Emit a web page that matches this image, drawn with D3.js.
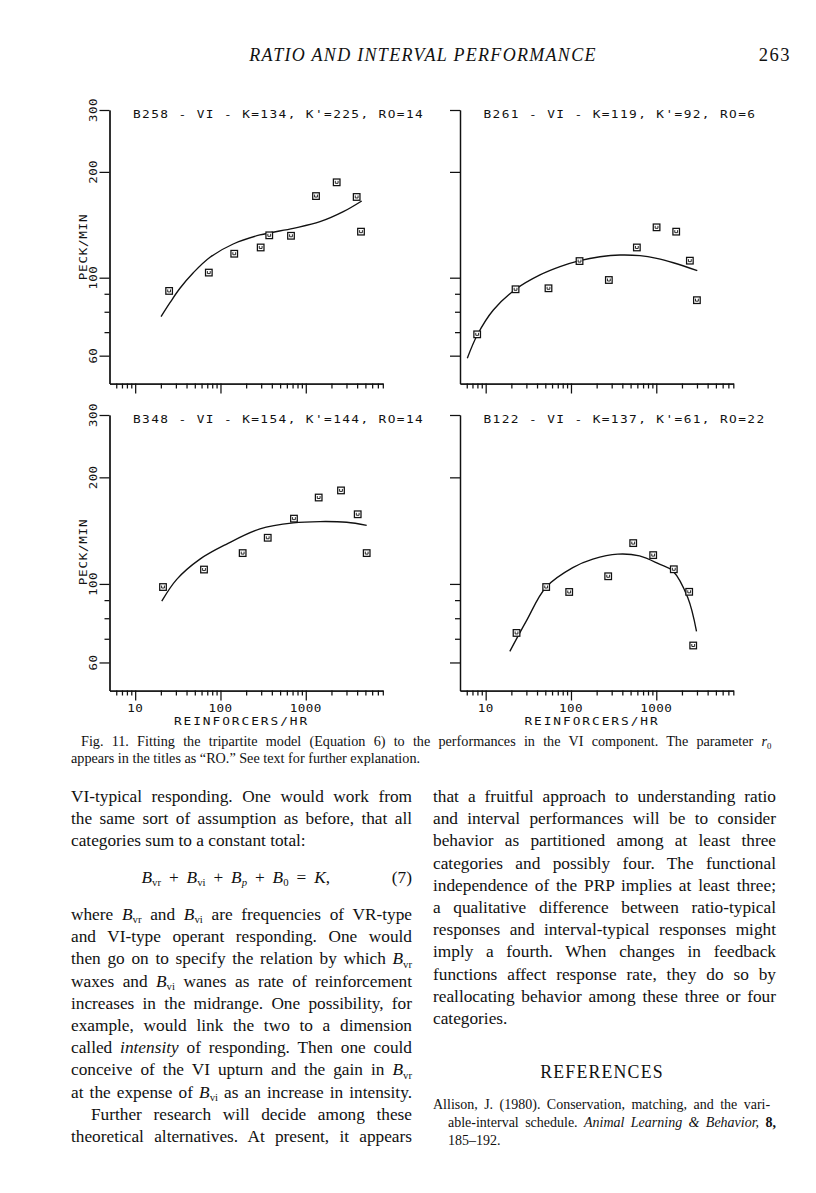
<!DOCTYPE html>
<html><head><meta charset="utf-8">
<script src="https://cdn.jsdelivr.net/npm/d3@7"></script>
<style>
body{margin:0;background:#fff;}
svg{display:block;background:#fff;}
.plot text{font-family:"DejaVu Sans Mono",monospace;fill:#111;}
.serif{font-family:"Liberation Serif","Times New Roman",serif;fill:#111;white-space:pre;}
</style></head><body>
<svg id="page" width="816" height="1193"></svg>
<script>
// ---------- chart data ----------
const panelTitles = [
  "B258 - VI - K=134, K'=225, RO=14",
  "B261 - VI - K=119, K'=92, RO=6",
  "B348 - VI - K=154, K'=144, RO=14",
  "B122 - VI - K=137, K'=61, RO=22"
];
const xMajorTicks = [10, 100, 1000];
const xMinorTicks = [6,7,8,9,20,30,40,50,60,70,80,90,200,300,400,500,600,700,800,900,2000,3000,4000,5000,6000,7000,8000];
const xTickLabels = ["10", "100", "1000"];
const yMajorTicks = [60, 100, 200, 300];
const yMinorTicks = [70, 80, 90];
const yTickLabels = ["60", "100", "200", "300"];
const xTitle = "REINFORCERS/HR";
const yTitle = "PECK/MIN";

// B258
const b258Rate = [25, 73, 145, 296, 373, 671, 1318, 2303, 3950, 4440];
const b258Peck = [91.7, 103.4, 117, 121.9, 132, 131.6, 170.7, 186.8, 169.7, 135.2];
const b258FitRate = [20.1, 25.6, 33.5, 48, 75.4, 141, 290, 714, 1468, 2753, 4525];
const b258FitPeck = [77.5, 84.9, 93.3, 103.3, 114.3, 124.7, 132.3, 138.2, 144.3, 154.1, 165.3];
// B261
const b261Rate = [7.95, 22.4, 54.5, 126, 278, 592, 1008, 1712, 2476, 2995];
const b261Peck = [69, 92.7, 93.3, 111.5, 98.5, 121.9, 139.1, 135.2, 111.8, 86.3];
const b261FitRate = [6.09, 7.97, 12.3, 22.5, 43.3, 74.4, 126.5, 219, 376, 644, 1011, 1584, 3026];
const b261FitPeck = [59, 68.7, 80.9, 92.7, 101.8, 107.5, 111.8, 114.7, 116, 115.5, 113.5, 110.3, 104.7];
// B348
const b348Rate = [21.2, 64.1, 182, 358, 727, 1417, 2588, 4062, 5177];
const b348Peck = [98, 109.8, 122.2, 135, 152.9, 175.4, 183.7, 157.3, 122.2];
const b348FitRate = [20.5, 30.7, 57.5, 118.3, 290.5, 714, 1468, 3019, 5177];
const b348FitPeck = [89.4, 103, 117.5, 129.6, 143, 148.7, 150, 149.3, 146.3];
// B122
const b122Rate = [23, 51.2, 95.3, 273, 536.5, 920, 1605, 2430, 2710];
const b122Peck = [72.7, 98, 94.9, 105.1, 130.4, 120.6, 110, 95, 67];
const b122FitRate = [19.2, 29.9, 51.2, 105, 180.3, 354, 636, 1091, 1563, 2344, 2963];
const b122FitPeck = [64.5, 78.5, 98, 111.2, 117.5, 121.4, 120, 113.7, 108.8, 91.4, 73.5];

// ---------- layout ----------
const svg = d3.select("#page");
const perDecade = 85.3;
const frames = [
  {x0:109.5, top:110, bottom:383.5, yLab:true,  xLab:false},
  {x0:460,   top:110, bottom:383.5, yLab:false, xLab:false},
  {x0:109.5, top:415, bottom:690.5, yLab:true,  xLab:true},
  {x0:460,   top:415, bottom:690.5, yLab:false, xLab:true}
];
const series = [
  [b258Rate, b258Peck, b258FitRate, b258FitPeck],
  [b261Rate, b261Peck, b261FitRate, b261FitPeck],
  [b348Rate, b348Peck, b348FitRate, b348FitPeck],
  [b122Rate, b122Peck, b122FitRate, b122FitPeck]
];

// plotter-style text: widened monospace glyphs
function plotText(g, x, y, str, opts) {
  const rot = opts.rotate ? ` rotate(${opts.rotate})` : "";
  return g.append("text")
    .attr("transform", `translate(${x},${y})${rot} scale(${opts.sx},1)`)
    .attr("text-anchor", opts.anchor || "start")
    .attr("font-size", opts.size || 10.5)
    .style("letter-spacing", opts.ls + "px")
    .text(str);
}

frames.forEach((f, i) => {
  const [rate, peck, fitRate, fitPeck] = series[i];
  const x = d3.scaleLog().domain([5, 8000]).range([f.x0, f.x0 + perDecade * Math.log10(8000/5)]);
  const y = d3.scaleLog().domain([50, 300]).range([f.bottom, f.top]);
  const g = svg.append("g").attr("class", "plot");

  const ax = (sel) => sel.selectAll("path,line").attr("stroke", "#111").attr("stroke-width", 1.25);
  g.append("g").attr("transform", `translate(0,${f.bottom})`)
    .call(d3.axisBottom(x).tickValues(xMinorTicks).tickSize(5).tickSizeOuter(0).tickFormat(() => "")).call(ax);
  g.append("g").attr("transform", `translate(0,${f.bottom})`)
    .call(d3.axisBottom(x).tickValues(xMajorTicks).tickSize(10).tickSizeOuter(0).tickFormat(() => "")).call(ax);
  g.append("g").attr("transform", `translate(${f.x0},0)`)
    .call(d3.axisLeft(y).tickValues(yMinorTicks).tickSize(5).tickSizeOuter(0).tickFormat(() => "")).call(ax);
  g.append("g").attr("transform", `translate(${f.x0},0)`)
    .call(d3.axisLeft(y).tickValues(yMajorTicks).tickSize(10).tickSizeOuter(0).tickFormat(() => "")).call(ax);

  // title
  plotText(g, f.x0 + 23.5, f.top + 7.6, panelTitles[i], {sx: 1.22, ls: 1.14});

  if (f.yLab) {
    yMajorTicks.forEach((v, k) => {
      plotText(g, f.x0 - 12.5, y(v), yTickLabels[k], {rotate: -90, anchor: "middle", sx: 1.18, ls: 0.4});
    });
    plotText(g, f.x0 - 22.5, f.top + 137, yTitle, {rotate: -90, anchor: "middle", sx: 1.2, ls: 0.6});
  }
  if (f.xLab) {
    xMajorTicks.forEach((v, k) => {
      plotText(g, x(v), f.bottom + 21, xTickLabels[k], {anchor: "middle", sx: 1.2, ls: 0.4});
    });
    plotText(g, f.x0 + 132, f.bottom + 34, xTitle, {anchor: "middle", sx: 1.22, ls: 1.6});
  }

  // fitted curve
  const line = d3.line().x(d => x(d[0])).y(d => y(d[1])).curve(d3.curveCatmullRom.alpha(0.5));
  g.append("path").datum(d3.zip(fitRate, fitPeck)).attr("d", line)
    .attr("fill", "none").attr("stroke", "#111").attr("stroke-width", 1.35);

  // data squares
  const pts = g.selectAll("g.pt").data(d3.zip(rate, peck)).join("g").attr("class", "pt")
    .attr("transform", d => `translate(${x(d[0])},${y(d[1])})`);
  pts.append("rect").attr("x", -3.3).attr("y", -3.3).attr("width", 6.6).attr("height", 6.6)
    .attr("fill", "#fff").attr("stroke", "#111").attr("stroke-width", 1.25);
  pts.append("path").attr("d", "M-1.4,-1.5V1H1.4V-1.5").attr("fill", "none")
    .attr("stroke", "#111").attr("stroke-width", 0.9);
});

// ---------- page text ----------
const T = svg.append("g").attr("class", "serif");

function parseSegs(str) {
  const parts = str.split(/(\*\*[^*]+\*\*|\*[^*]+\*|_\{[^}]+\}|_\[[^\]]+\])/).filter(s => s.length);
  return parts.map(p => {
    if (p.startsWith("**")) return {t: p.slice(2, -2), b: true};
    if (p.startsWith("*")) return {t: p.slice(1, -1), i: true};
    if (p.startsWith("_{")) return {t: p.slice(2, -1), sub: true};
    if (p.startsWith("_[")) return {t: p.slice(2, -1), sub: true, i: true};
    return {t: p};
  });
}
function textLine(x, y, str, size, width, opts = {}) {
  const t = T.append("text").attr("x", x).attr("y", y).attr("font-size", size);
  if (opts.anchor) t.attr("text-anchor", opts.anchor);
  if (opts.italic) t.attr("font-style", "italic");
  if (opts.ls) t.style("letter-spacing", opts.ls + "px");
  let shift = 0;
  const segs = parseSegs(str);
  segs.forEach(s => {
    const ts = t.append("tspan").text(s.t);
    if (s.i) ts.attr("font-style", "italic");
    if (s.b) ts.attr("font-weight", "bold");
    if (s.sub) { ts.attr("font-size", size * 0.62).attr("dy", 3.4 - shift); shift = 3.4; }
    else if (shift) { ts.attr("dy", -shift); shift = 0; }
  });
  if (width) {
    const w = t.node().getComputedTextLength();
    const plain = segs.map(s => s.t).join("");
    const spaces = (plain.match(/ /g) || []).length;
    if (spaces > 0) t.style("word-spacing", ((width - w) / spaces) + "px");
  }
  return t;
}

// running head
textLine(423, 61, "RATIO AND INTERVAL PERFORMANCE", 18, 0, {anchor: "middle", italic: true, ls: 1.3});
textLine(791, 61, "263", 18.5, 0, {anchor: "end", ls: 1.5});

// caption
textLine(81, 746, "Fig. 11.  Fitting the tripartite model (Equation 6) to the performances in the VI component. The parameter *r*_{0}", 14.2, 776 - 81);
textLine(71, 763, "appears in the titles as \u201CRO.\u201D See text for further explanation.", 14.2, 0);

const bodySize = 17.3, lead = 22.2;
const leftX = 71, leftW = 412 - 71, rightX = 433, rightW = 776 - 433;
const top0 = 802;

const leftA = [
  ["VI-typical responding. One would work from", true],
  ["the same sort of assumption as before, that all", true],
  ["categories sum to a constant total:", false]
];
leftA.forEach((l, k) => textLine(leftX, top0 + k * lead, l[0], bodySize, l[1] ? leftW : 0));
textLine(141.5, 883, "*B*_{vr} + *B*_{vi} + *B*_[p] + *B*_{0} = *K*,", bodySize, 330 - 141.5);
textLine(412, 883, "(7)", bodySize, 0, {anchor: "end"});
const leftB = [
  ["where *B*_{vr} and *B*_{vi} are frequencies of VR-type", true],
  ["and VI-type operant responding. One would", true],
  ["then go on to specify the relation by which *B*_{vr}", true],
  ["waxes and *B*_{vi} wanes as rate of reinforcement", true],
  ["increases in the midrange. One possibility, for", true],
  ["example, would link the two to a dimension", true],
  ["called *intensity* of responding. Then one could", true],
  ["conceive of the VI upturn and the gain in *B*_{vr}", true],
  ["at the expense of *B*_{vi} as an increase in intensity.", true],
  ["Further research will decide among these", true, 20],
  ["theoretical alternatives. At present, it appears", true]
];
leftB.forEach((l, k) => {
  const ind = l[2] || 0;
  textLine(leftX + ind, 920 + k * lead, l[0], bodySize, l[1] ? leftW - ind : 0);
});

const right = [
  ["that a fruitful approach to understanding ratio", true],
  ["and interval performances will be to consider", true],
  ["behavior as partitioned among at least three", true],
  ["categories and possibly four. The functional", true],
  ["independence of the PRP implies at least three;", true],
  ["a qualitative difference between ratio-typical", true],
  ["responses and interval-typical responses might", true],
  ["imply a fourth. When changes in feedback", true],
  ["functions affect response rate, they do so by", true],
  ["reallocating behavior among these three or four", true],
  ["categories.", false]
];
right.forEach((l, k) => textLine(rightX, top0 + k * lead, l[0], bodySize, l[1] ? rightW : 0));

textLine(602, 1078, "REFERENCES", 17.8, 0, {anchor: "middle", ls: 1.2});
textLine(rightX, 1109, "Allison, J.  (1980).  Conservation, matching, and the vari-", 14, rightW);
textLine(rightX + 15, 1127, "able-interval schedule. *Animal Learning & Behavior,* **8,**", 14, rightW - 15);
textLine(rightX + 15, 1145, "185\u2013192.", 14, 0);
</script>
</body></html>
